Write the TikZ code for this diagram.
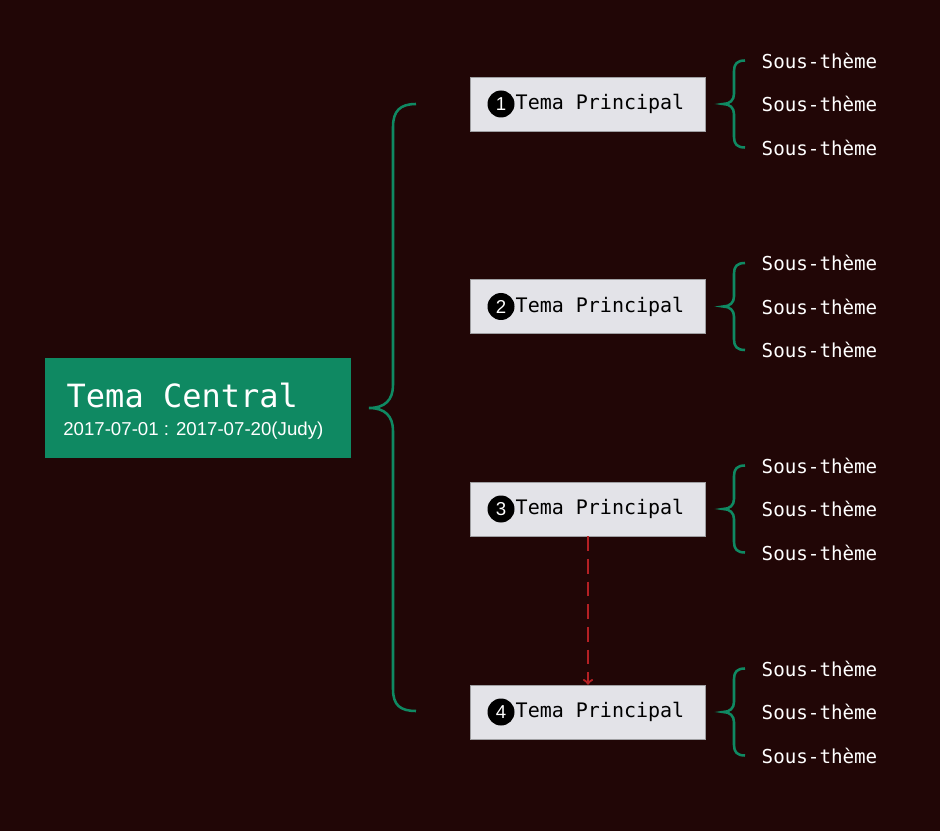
\documentclass[tikz,border=0pt]{standalone}
\usepackage{fontspec}
\setmainfont{Liberation Sans}
\newfontfamily\monofont{DejaVu Sans Mono}
\usetikzlibrary{calc}
\definecolor{bgdark}{HTML}{210606}
\definecolor{bggreen}{HTML}{0F8962}
\definecolor{boxgrey}{HTML}{E3E3E8}
\definecolor{linkred}{HTML}{B52024}
\begin{document}
\begin{tikzpicture}[x=0.75pt,y=-0.75pt]

    % styles
    \tikzstyle{central} = [fill=bggreen,minimum width=306*0.75pt,minimum height=99*0.75pt,inner sep=0pt]
    \tikzstyle{topicbox} = [fill=boxgrey,draw=boxgrey!70!black,line width=0.4pt,minimum width=235*0.75pt,minimum height=54*0.75pt,inner sep=0pt]
    \tikzstyle{topictext} = [font=\monofont\fontsize{15}{18}\selectfont,text=black,anchor=west]
    \tikzstyle{badge} = [circle,fill=black,text=white,minimum size=27*0.75pt,inner sep=0pt,font=\fontsize{14}{16}\selectfont]
    \tikzstyle{subtext} = [font=\monofont\fontsize{14.4}{17}\selectfont,text=white,anchor=west]
    \tikzstyle{brace} = [draw=bggreen,line width=1.9pt]
    \tikzstyle{link} = [draw=linkred,line width=1.7pt,dashed,dash pattern=on 11pt off 6pt,->]

    % background
    \path[use as bounding box,fill=bgdark] (0,0) rectangle (940,831);

    % central topic
    \node[central] (center) at (198,408) {};
    \node[anchor=west,text=white,font=\monofont\fontsize{24}{28}\selectfont] (title) at (62,395) {Tema Central};
    \node[anchor=west,text=white,font=\fontsize{14}{16}\selectfont,inner sep=0pt] (dates) at (63,431) {2017-07-01 : 2017-07-20(Judy)};

    % big brace
    \coordinate (bigroot) at (369,408);
    \draw[brace] (416,104) .. controls (400,104) and (393,111) .. (393,127) -- (393,385)
        .. controls (393,400) and (385,408) .. (bigroot)
        .. controls (385,408) and (393,416) .. (393,431) -- (393,689)
        .. controls (393,705) and (400,711) .. (416,711);

    % main topics
    \foreach \i/\y in {1/104,2/306.5,3/509,4/712} {
        \node[topicbox] (topic\i) at (588,\y) {};
        \node[badge] (badge\i) at (501,\y) {\i};
        \node[topictext] (label\i) at (511,\y) {Tema Principal};
        \draw[brace] (745,\y-43.5) .. controls (737,\y-43.5) and (734,\y-40) .. (734,\y-33) -- (734,\y-10)
            .. controls (734,\y-4) and (730,\y) .. (723,\y)
            .. controls (730,\y) and (734,\y+4) .. (734,\y+10) -- (734,\y+33)
            .. controls (734,\y+40) and (737,\y+43.5) .. (745,\y+43.5);
        \node[subtext] (suba\i) at (757,\y-43.5) {Sous-thème};
        \node[subtext] (subb\i) at (757,\y) {Sous-thème};
        \node[subtext] (subc\i) at (757,\y+43.5) {Sous-thème};
    }

    % relation
    \draw[link] (topic3) -- (topic4);
\end{tikzpicture}
\end{document}
